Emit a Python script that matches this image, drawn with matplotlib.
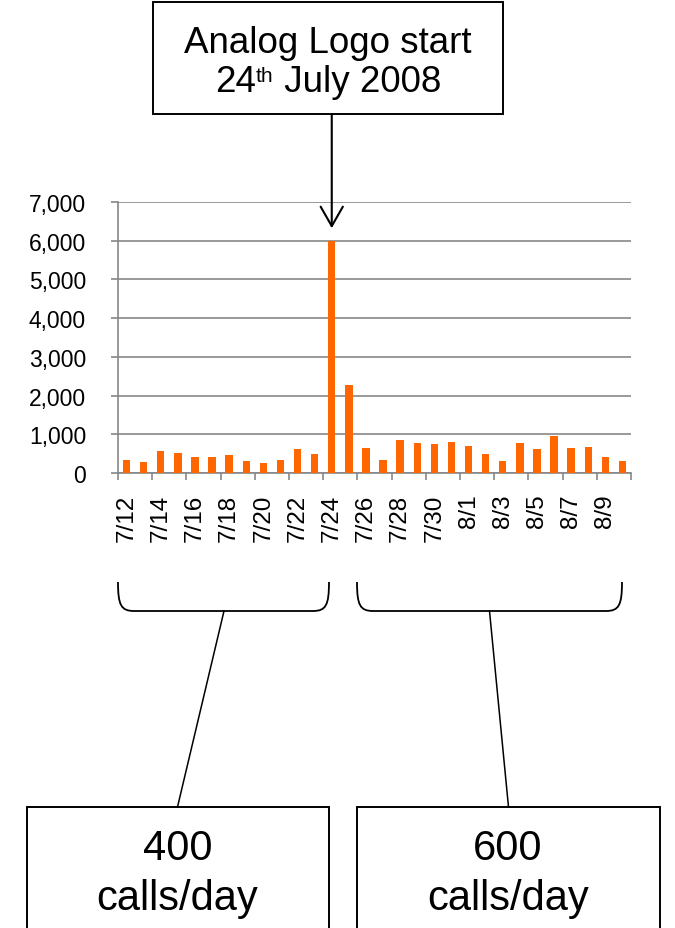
import matplotlib
matplotlib.use('Agg')
import matplotlib.pyplot as plt
from matplotlib.patches import Rectangle, PathPatch
from matplotlib.path import Path

plt.rcParams['font.family'] = ['Liberation Sans', 'DejaVu Sans']

# daily call counts, 12 July - 10 August 2008
days = ['7/12', '7/13', '7/14', '7/15', '7/16', '7/17', '7/18', '7/19', '7/20', '7/21',
        '7/22', '7/23', '7/24', '7/25', '7/26', '7/27', '7/28', '7/29', '7/30', '7/31',
        '8/1', '8/2', '8/3', '8/4', '8/5', '8/6', '8/7', '8/8', '8/9', '8/10']
calls = [330, 285, 575, 515, 415, 420, 465, 300, 260, 330,
         610, 490, 6000, 2280, 640, 345, 860, 775, 740, 800,
         695, 480, 300, 765, 620, 965, 645, 670, 420, 300]
y_ticks = [0, 1000, 2000, 3000, 4000, 5000, 6000, 7000]
start_idx = days.index('7/24')

W, H = 675, 929
fig = plt.figure(figsize=(W / 100, H / 100), dpi=100)

# bar chart
ax = fig.add_axes([118 / W, 1 - 474 / H, 513 / W, 271 / H])
x = list(range(len(days)))
ax.bar(x, calls, width=0.43, color='#ff6600', zorder=3)
ax.set_xlim(-0.5, len(days) - 0.5)
ax.set_ylim(0, 7000)

grey = '#878787'
ax.set_yticks(y_ticks, ['{:,}'.format(v) for v in y_ticks])
ax.yaxis.grid(True, color=grey, linewidth=1.2, zorder=0)
ax.tick_params(axis='y', length=5, width=1.2, color=grey, pad=18, labelsize=16.5)

# tick marks sit between every second day, labels on the days themselves
ax.set_xticks([i - 0.5 for i in range(0, len(days) + 1, 2)], [])
ax.set_xticks(x[::2], days[::2], minor=True, rotation=90)
ax.tick_params(axis='x', which='major', length=5, width=1.2, color=grey)
ax.tick_params(axis='x', which='minor', length=0, pad=15, labelsize=17.5)

for side in ['top', 'right']:
    ax.spines[side].set_visible(False)
for side in ['left', 'bottom']:
    ax.spines[side].set_color(grey)
    ax.spines[side].set_linewidth(1.2)

# overlay in pixel units for the callouts
ov = fig.add_axes([0, 0, 1, 1], zorder=5)
ov.set_xlim(0, W)
ov.set_ylim(H, 0)
ov.axis('off')
ov.patch.set_alpha(0)

# top callout box
ov.add_patch(Rectangle((153, 3), 350, 112, facecolor='white', edgecolor='black', linewidth=1.4))
ov.text(328, 53, 'Analog Logo start', ha='center', va='baseline', fontsize=26.5)

# second line built from pieces so the ordinal suffix stays small
renderer = fig.canvas.get_renderer()
parts = [('24', 26.5, 0), ('th', 15, -10), (' July 2008', 26.5, 0)]
pieces = []
for s, size, rise in parts:
    t = ov.text(0, 92 + rise, s, ha='left', va='baseline', fontsize=size)
    pieces.append((t, t.get_window_extent(renderer).width))
total = sum(w for _, w in pieces)
pos = 328 - total / 2
for t, w in pieces:
    t.set_x(pos)
    pos += w

ov.annotate('', xy=(start_idx, calls[start_idx]), xycoords=ax.transData,
            xytext=(0, 126), textcoords='offset pixels',
            arrowprops=dict(arrowstyle='->,head_length=0.7,head_width=0.4',
                            mutation_scale=20, color='black', lw=1.5,
                            shrinkA=0, shrinkB=9))


def bracket(x0, x1, top=583, bottom=612):
    verts = [(x0, top), (x0, bottom - 6), (x0 + 3, bottom), (x0 + 16, bottom),
             (x1 - 16, bottom), (x1 - 3, bottom), (x1, bottom - 6), (x1, top)]
    codes = [Path.MOVETO, Path.CURVE4, Path.CURVE4, Path.CURVE4,
             Path.LINETO, Path.CURVE4, Path.CURVE4, Path.CURVE4]
    ov.add_patch(PathPatch(Path(verts, codes), fill=False, edgecolor='black', linewidth=1.3))


bracket(118, 329)
bracket(357, 622)

# connectors and summary boxes
ov.plot([224, 177.5], [612, 808], color='black', linewidth=1.1)
ov.plot([489.5, 508.5], [612, 808], color='black', linewidth=1.1)
ov.add_patch(Rectangle((27, 808), 302, 200, facecolor='white', edgecolor='black', linewidth=1.4))
ov.add_patch(Rectangle((357, 808), 303, 200, facecolor='white', edgecolor='black', linewidth=1.4))

ov.text(177.5, 860, '400', ha='center', va='baseline', fontsize=30)
ov.text(177.5, 910, 'calls/day', ha='center', va='baseline', fontsize=30)
ov.text(508, 860, '600', ha='center', va='baseline', fontsize=30)
ov.text(508, 910, 'calls/day', ha='center', va='baseline', fontsize=30)

fig.savefig('out.png', dpi=100)
